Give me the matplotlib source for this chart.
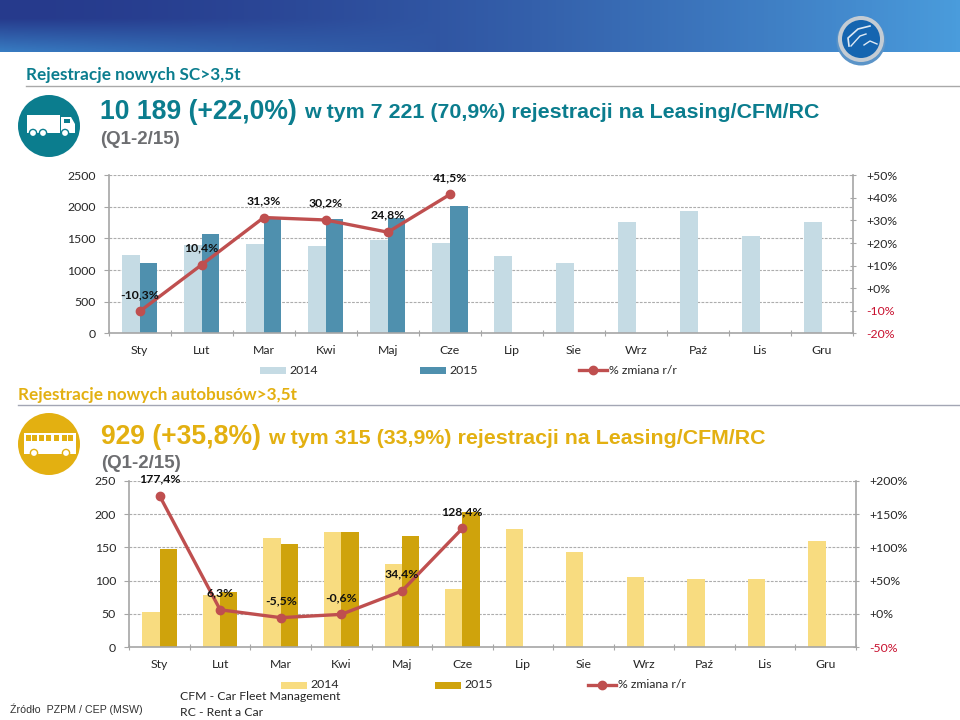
import matplotlib
matplotlib.use('Agg')
import matplotlib.pyplot as plt
import numpy as np
from matplotlib.patches import Circle, Rectangle, Polygon

months = ['Sty', 'Lut', 'Mar', 'Kwi', 'Maj', 'Cze', 'Lip', 'Sie', 'Wrz', 'Paź', 'Lis', 'Gru']

sc_2014 = [1239, 1400, 1408, 1381, 1477, 1428, 1223, 1112, 1766, 1935, 1544, 1766]
sc_2015 = [1112, 1571, 1845, 1808, 1820, 2014]
sc_change = [-10.3, 10.4, 31.3, 30.2, 24.8, 41.5]
sc_labels = ['-10,3%', '10,4%', '31,3%', '30,2%', '24,8%', '41,5%']
sc_ticks = [0, 500, 1000, 1500, 2000, 2500]
sc_pct_ticks = [-20, -10, 0, 10, 20, 30, 40, 50]
sc_pct_labels = ['-20%', '-10%', '+0%', '+10%', '+20%', '+30%', '+40%', '+50%']

bus_2014 = [53, 78, 164.5, 173.5, 125, 87.5, 178, 143, 106, 102, 102.5, 160]
bus_2015 = [147, 83.5, 155.5, 173, 167.5, 203]
bus_change = [177.4, 6.3, -5.5, -0.6, 34.4, 128.4]
bus_labels = ['177,4%', '6,3%', '-5,5%', '-0,6%', '34,4%', '128,4%']
bus_ticks = [0, 50, 100, 150, 200, 250]
bus_pct_ticks = [-50, 0, 50, 100, 150, 200]
bus_pct_labels = ['-50%', '+0%', '+50%', '+100%', '+150%', '+200%']

W, H = 960, 720
plt.rcParams['font.family'] = ['Lato', 'DejaVu Sans']
TEAL = '#0b7d8e'
GOLD = '#e3b011'
GREY = '#6d6e71'
LINE = '#bf4f4f'
TXT = '#262626'
RED = '#c8102e'
FS = 8.8

fig = plt.figure(figsize=(9.6, 7.2), dpi=100)

# overlay in pixel coordinates for header, icons and titles
bg = fig.add_axes([0, 0, 1, 1], zorder=0)

# header band
c1 = np.array([0x26, 0x3a, 0x8c]) / 255
c2 = np.array([0x4a, 0x9c, 0xdc]) / 255
c3 = np.array([0x38, 0x7c, 0xc2]) / 255
xx, yy = np.meshgrid(np.linspace(0, 1, 240), np.linspace(0, 1, 52))
t = np.clip(xx ** 1.6, 0, 1)[..., None]
band = c1 * (1 - t) + c2 * t
v = (np.clip((yy - 0.35) / 0.65, 0, 1) * np.clip(1 - xx * 2.2, 0, 1) ** 0.7)[..., None]
band = band * (1 - v) + c3 * v
bg.imshow(band, extent=[0, W, 52, 0], aspect='auto', zorder=1)
bg.set_xlim(0, W)
bg.set_ylim(H, 0)
bg.axis('off')

# logo
bg.add_patch(Circle((861, 41), 24.5, fc='#5b94c8', ec='none', zorder=2))
bg.add_patch(Circle((861, 39), 23, fc='#c4ccd4', ec='none', zorder=3))
bg.add_patch(Circle((861, 39), 19, fc='#1565b0', ec='none', zorder=4))
bg.plot([849, 848, 858, 870], [46, 38, 29, 26], color='#dfeaf5', lw=1.2, zorder=5)
bg.plot([851, 860, 866], [46, 36, 34], color='#dfeaf5', lw=1, zorder=5)
bg.plot([864, 870, 877], [45, 41, 44], color='#dfeaf5', lw=1, zorder=5)

# section rules
bg.plot([26, 960], [86, 86], color='#a9a9a9', lw=1, zorder=2)
bg.plot([18, 960], [405, 405], color='#a3a6b4', lw=1, zorder=2)

bg.text(26, 75, 'Rejestracje nowych SC>3,5t', color=TEAL, fontsize=12.3, fontweight='bold', va='center')
bg.text(18, 395, 'Rejestracje nowych autobusów>3,5t', color=GOLD, fontsize=12.3, fontweight='bold', va='center')

# truck icon
bg.add_patch(Circle((49, 126), 31, fc=TEAL, ec='none', zorder=2))
bg.add_patch(Rectangle((27, 115), 33, 18, fc='white', ec='none', zorder=3))
bg.add_patch(Polygon([[61, 117], [71, 117], [75, 124], [75, 133], [61, 133]], fc='white', ec='none', zorder=3))
bg.add_patch(Rectangle((64, 119), 6, 4, fc=TEAL, ec='none', zorder=4))
for cx in [33, 43, 65]:
    bg.add_patch(Circle((cx, 133), 3.6, fc='white', ec=TEAL, lw=1, zorder=4))

# bus icon
bg.add_patch(Circle((49, 444), 31, fc=GOLD, ec='none', zorder=2))
bg.add_patch(Rectangle((24, 433), 52, 21, fc='white', ec='none', zorder=3))
for wx in [26, 32, 39, 46, 54, 62, 68]:
    bg.add_patch(Rectangle((wx, 435), 5, 6, fc=GOLD, ec='none', zorder=4))
for cx in [34, 66]:
    bg.add_patch(Circle((cx, 453), 3.6, fc='white', ec=GOLD, lw=1, zorder=4))

# headlines, big part then the rest placed after it
renderer = fig.canvas.get_renderer()


def headline(x, y, big, rest, color):
    a = bg.text(x, y, big, color=color, fontsize=19.1, fontweight='bold', family='Liberation Sans', va='center')
    end = a.get_window_extent(renderer).x1
    bg.text(end + 7, y + 1, rest, color=color, fontsize=15.4, fontweight='bold', family='Liberation Sans', va='center')


headline(100, 112, '10 189 (+22,0%)', 'w tym 7 221 (70,9%) rejestracji na Leasing/CFM/RC', TEAL)
headline(101, 437, '929 (+35,8%)', 'w tym 315 (33,9%) rejestracji na Leasing/CFM/RC', GOLD)
bg.text(100, 139, '(Q1-2/15)', color=GREY, fontsize=13.5, fontweight='bold', family='Liberation Sans', va='center')
bg.text(101, 463, '(Q1-2/15)', color=GREY, fontsize=13.5, fontweight='bold', family='Liberation Sans', va='center')

bg.text(10, 709, 'Źródło  PZPM / CEP (MSW)', color='#333333', fontsize=7.7, family='Liberation Sans', va='center')
bg.text(180, 696, 'CFM - Car Fleet Management', color=TXT, fontsize=8.8, va='center', zorder=6)
bg.text(180, 712, 'RC - Rent a Car', color=TXT, fontsize=8.8, va='center', zorder=6)


def panel(x0, x1, y_top, y_bot, d14, d15, ch, labs, ticks, pct_ticks, pct_labs, col14, col15, red_below):
    ax = fig.add_axes([x0 / W, 1 - y_bot / H, (x1 - x0) / W, (y_bot - y_top) / H], zorder=2)
    ax.patch.set_alpha(0)
    ax.set_axisbelow(True)
    ax.grid(axis='y', color='#adadad', lw=0.8, ls=(0, (2.5, 1.2)))
    x = np.arange(12)
    ax.bar(x - 0.1425, d14, 0.285, color=col14)
    ax.bar(np.arange(len(d15)) + 0.1425, d15, 0.285, color=col15)
    ax.set_xlim(-0.5, 11.5)
    ax.set_ylim(ticks[0], ticks[-1])
    ax.set_yticks(ticks)
    ax.set_xticks(np.arange(-0.5, 12, 1))
    ax.set_xticklabels([])
    ax.tick_params(axis='x', length=5, direction='inout', color='#a6a6a6')
    ax.tick_params(axis='y', length=3.5, direction='out', color='#a6a6a6', labelsize=FS, labelcolor=TXT, pad=6)
    for s in ['top', 'right']:
        ax.spines[s].set_visible(False)
    ax.spines['left'].set_color('#a6a6a6')
    ax.spines['bottom'].set_color('#a6a6a6')
    ax.spines['left'].set_linewidth(1.2)
    ax.spines['bottom'].set_linewidth(1.2)
    for i, m in enumerate(months):
        ax.annotate(m, (i, 0), xytext=(0, -17), textcoords='offset pixels', ha='center', va='center',
                    fontsize=FS, color=TXT, annotation_clip=False)

    ax2 = ax.twinx()
    ax2.patch.set_alpha(0)
    ax2.plot(np.arange(len(ch)), ch, color=LINE, lw=2.4, marker='o', ms=6)
    ax2.set_ylim(pct_ticks[0], pct_ticks[-1])
    ax2.set_yticks(pct_ticks)
    ax2.set_yticklabels(pct_labs)
    ax2.tick_params(axis='y', length=5, direction='inout', color='#a6a6a6', labelsize=FS, labelcolor=TXT, pad=6.8)
    for tick_val, tl in zip(pct_ticks, ax2.get_yticklabels()):
        if tick_val < red_below:
            tl.set_color(RED)
    for s in ['top', 'left', 'bottom']:
        ax2.spines[s].set_visible(False)
    ax2.spines['right'].set_color('#a6a6a6')
    ax2.spines['right'].set_linewidth(1.2)
    for i, (v, lab) in enumerate(zip(ch, labs)):
        ax2.annotate(lab, (i, v), xytext=(0, 17), textcoords='offset pixels', ha='center', va='center',
                     fontsize=FS, fontweight='bold', color='#111111', annotation_clip=False)
    return ax


panel(108.7, 853, 175.3, 333.3, sc_2014, sc_2015, sc_change, sc_labels, sc_ticks, sc_pct_ticks, sc_pct_labels,
      '#c5dbe4', '#4f90ae', 0)
panel(129.3, 856, 480.7, 647.3, bus_2014, bus_2015, bus_change, bus_labels, bus_ticks, bus_pct_ticks, bus_pct_labels,
      '#f8dc80', '#cfa30c', 0)


def legend(y, xs, col14, col15):
    bg.add_patch(Rectangle((xs[0], y - 3.5), 26, 7, fc=col14, ec='none', zorder=2))
    bg.text(xs[0] + 29, y, '2014', fontsize=FS, color=TXT, va='center')
    bg.add_patch(Rectangle((xs[1], y - 3.5), 26, 7, fc=col15, ec='none', zorder=2))
    bg.text(xs[1] + 29, y, '2015', fontsize=FS, color=TXT, va='center')
    bg.plot([xs[2], xs[2] + 28], [y, y], color=LINE, lw=2.4, zorder=2)
    bg.plot([xs[2] + 14], [y], color=LINE, marker='o', ms=6, zorder=2)
    bg.text(xs[2] + 30, y, '% zmiana r/r', fontsize=FS, color=TXT, va='center')


legend(370, [260, 420, 579], '#c5dbe4', '#4f90ae')
legend(685, [281, 435, 588], '#f8dc80', '#cfa30c')

fig.savefig('out.png', dpi=100)
